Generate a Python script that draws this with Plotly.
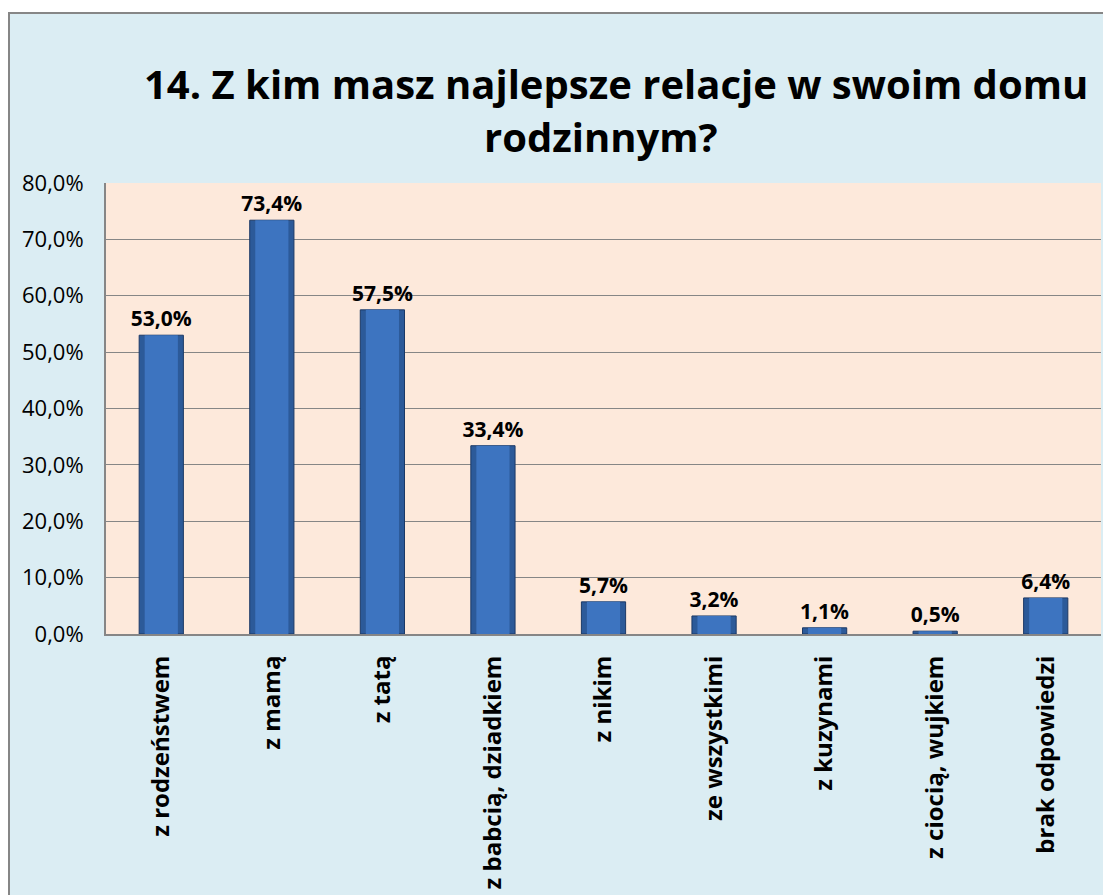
import plotly.graph_objects as go

categories = ["z rodzeństwem", "z mamą", "z tatą", "z babcią, dziadkiem", "z nikim",
              "ze wszystkimi", "z kuzynami", "z ciocią, wujkiem", "brak odpowiedzi"]
values = [53.0, 73.4, 57.5, 33.4, 5.7, 3.2, 1.1, 0.5, 6.4]
y_ticks = [0, 10, 20, 30, 40, 50, 60, 70, 80]
y_tick_labels = ["0,0%", "10,0%", "20,0%", "30,0%", "40,0%", "50,0%", "60,0%", "70,0%", "80,0%"]
title_lines = ["14. Z kim masz najlepsze relacje w swoim domu", "rodzinnym?"]

OFF = 8  # page body margin
W, H = 1111 - OFF, 895 - OFF
L, R, T, B = 106 - OFF, 1101 - OFF, 183 - OFF, 634 - OFF
pw, ph = R - L, B - T

def px_x(p):
    return (p - OFF - L) / pw

def px_y(p):
    return (B - (p - OFF)) / ph

FONT = "Open Sans"

fig = go.Figure()
fig.add_trace(go.Bar(
    x=categories, y=values, width=0.4,
    marker=dict(color="#2C5A99", line=dict(color="#1B3966", width=1)),
    texttemplate="%{y:.1f}%", textposition="outside", constraintext="none",
    textfont=dict(family=FONT, size=21, color="black", weight="bold"),
    cliponaxis=False, hoverinfo="skip",
))
fig.add_trace(go.Bar(
    x=categories, y=values, width=0.3,
    marker=dict(color="#3D74C0", line=dict(width=0)),
    hoverinfo="skip",
))

shapes = [
    dict(type="rect", xref="paper", yref="paper", layer="below",
         x0=px_x(9), x1=px_x(1140), y0=px_y(920), y1=px_y(13),
         fillcolor="#DBEDF3", line=dict(color="#868686", width=2)),
    dict(type="rect", xref="paper", yref="paper", layer="below",
         x0=0, x1=1, y0=0, y1=1,
         fillcolor="#FDE9DB", line=dict(width=0)),
]

annotations = [
    dict(text=title_lines[0], xref="paper", yref="paper", x=px_x(616), y=px_y(83),
         xanchor="center", yanchor="middle", showarrow=False,
         font=dict(family=FONT, size=40, color="black", weight="bold")),
    dict(text=title_lines[1], xref="paper", yref="paper", x=px_x(601), y=px_y(137),
         xanchor="center", yanchor="middle", showarrow=False,
         font=dict(family=FONT, size=40, color="black", weight="bold")),
]

fig.update_layout(
    width=W, height=H,
    margin=dict(l=L, r=W - R, t=T, b=H - B, pad=0),
    paper_bgcolor="white", plot_bgcolor="rgba(0,0,0,0)",
    barmode="overlay", showlegend=False,
    separators=", ",
    shapes=shapes, annotations=annotations,
    font=dict(family=FONT, color="black"),
)
fig.update_xaxes(
    tickangle=-90, tickfont=dict(family=FONT, size=24, color="black", weight="bold"),
    showline=True, linecolor="#868686", linewidth=2, ticks="", showgrid=False,
    ticklabelstandoff=10, automargin=False,
)
fig.update_yaxes(
    range=[0, 80], tickvals=y_ticks, ticktext=y_tick_labels,
    tickfont=dict(family=FONT, size=22, color="black"),
    showline=True, linecolor="#868686", linewidth=2,
    showgrid=True, gridcolor="#868686", gridwidth=1, zeroline=False,
    ticks="", ticklabelstandoff=16, automargin=False,
)

fig.write_html("out.html")
